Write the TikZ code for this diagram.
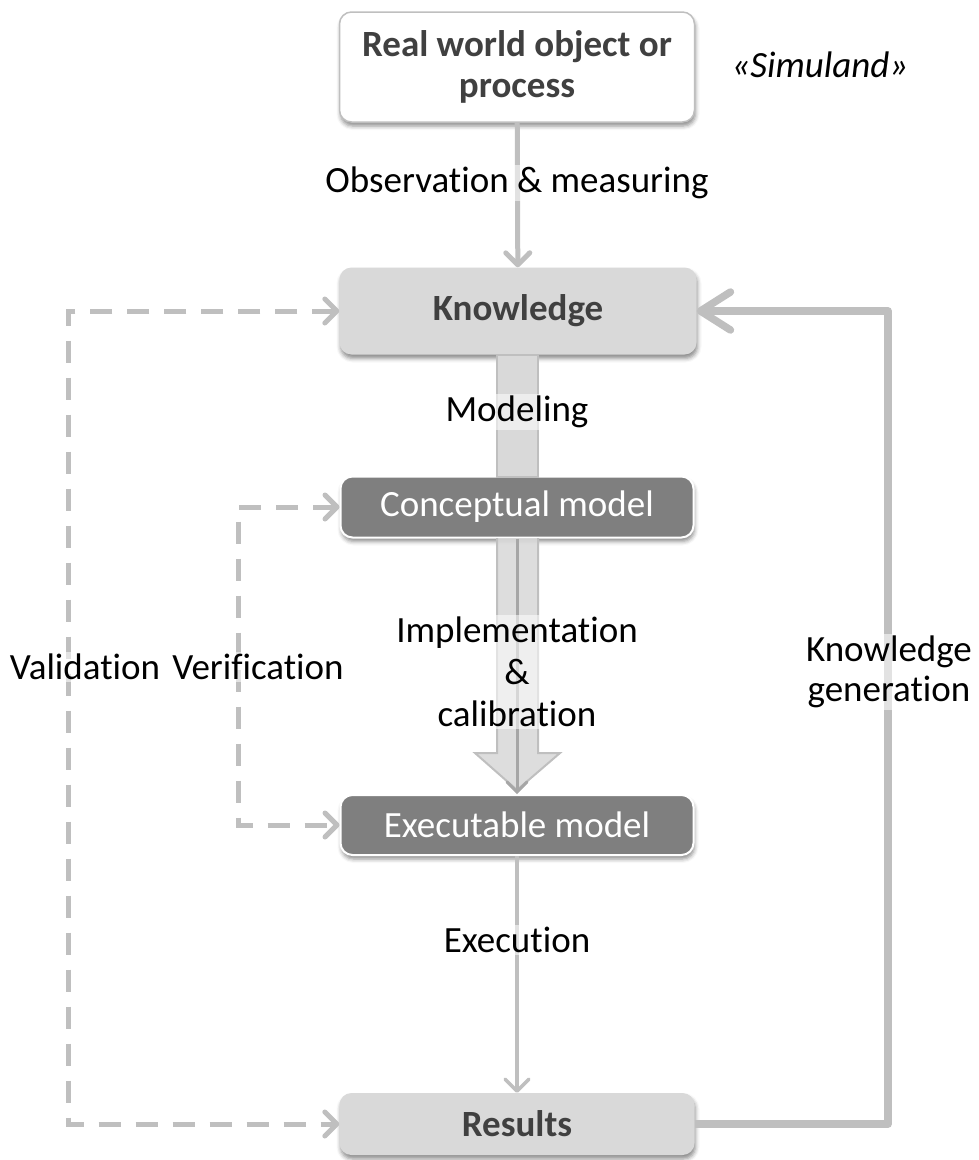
\documentclass[tikz,border=0pt]{standalone}
\usepackage{fontspec}
\setmainfont{Carlito}[Ligatures=NoCommon]
\usetikzlibrary{arrows.meta,shadows.blur}
\definecolor{boxlight}{HTML}{D9D9D9}
\definecolor{boxdark}{HTML}{7F7F7F}
\definecolor{linegray}{HTML}{BFBFBF}
\definecolor{textdark}{HTML}{404040}
\definecolor{centergray}{HTML}{A6A6A6}
\begin{document}
\begin{tikzpicture}[x=1pt,y=-1pt,
  every node/.style={font=\fontsize{37}{42}\selectfont},
  box/.style={rounded corners=12pt, minimum width=355pt, inner sep=0pt,
    align=center,
    blur shadow={shadow xshift=1pt, shadow yshift=-4pt,
      shadow blur radius=4pt, shadow opacity=45}},
  whitebox/.style={box, fill=white, draw=linegray, line width=1.5pt,
    text=textdark, font=\fontsize{37}{41}\selectfont\bfseries},
  lightbox/.style={box, fill=boxlight, text=textdark,
    font=\fontsize{37}{41}\selectfont\bfseries},
  darkbox/.style={box, fill=boxdark, draw=white, line width=2pt, text=white,
    minimum width=353pt},
  lbl/.style={fill=white, fill opacity=0.55, text opacity=1, inner sep=2pt,
    align=center, text=black},
  chevron/.tip={Straight Barb[length=12pt, width=24pt, line cap=round, line join=round]},
  bigchevron/.tip={Straight Barb[length=30pt, width=38pt, line cap=round, line join=round]},
  flow/.style={draw=linegray, line width=5pt, -chevron},
  thinflow/.style={draw=linegray, line width=3.5pt, -chevron},
  dashflow/.style={draw=linegray, line width=5pt, dash pattern=on 22pt off 15pt,
    chevron-chevron},
  feedback/.style={draw=linegray, line width=7.5pt, -bigchevron, line join=round},
  shaft/.style={fill=boxlight, draw=linegray, line width=2pt},
]
\useasboundingbox (0,0) rectangle (979,1160);

% boxes of the process chain
\node[whitebox, minimum height=110pt] (real) at (517,67) {Real world object or\\process};
\node[font=\fontsize{37}{42}\selectfont\itshape] (simuland) at (820,65) {«Simuland»};
\node[lightbox, minimum height=87pt, minimum width=357pt] (know) at (518,311) {Knowledge};
\node[darkbox, minimum height=61pt] (concept) at (517,507) {Conceptual model};
\node[darkbox, minimum height=60pt] (exec) at (517,825) {Executable model};
\node[lightbox, minimum height=62pt] (res) at (517,1124) {Results};

% observation arrow
\draw[flow] (real) -- (know);

% modeling shaft
\draw[shaft] (497,355) rectangle (538,477);

% implementation block arrow with inner line
\draw[shaft, fill opacity=0.9] (497,538) -- (497,753) -- (475,753) -- (517,790)
  -- (560,753) -- (538,753) -- (538,538);
\draw[draw=centergray, line width=3pt,
  -{Straight Barb[length=10pt, width=20pt, line cap=round]}] (concept) -- (exec);

% execution arrow
\draw[thinflow] (exec) -- (res);

% knowledge generation feedback
\coordinate (fbcorner) at (888,1124);
\draw[feedback] (res.east) -- (fbcorner) |- (know.east);

% validation and verification
\coordinate (valtop) at (68,311);
\coordinate (valbot) at (68,1124);
\draw[dashflow] (know.west) -- (valtop) -- (valbot) -- (res.west);
\coordinate (vertop) at (238,507);
\coordinate (verbot) at (238,825);
\draw[dashflow] (concept.west) -- (vertop) -- (verbot) -- (exec.west);

% labels
\node[lbl] (lobs) at (517,183) {Observation \& measuring};
\node[lbl] (lmod) at (517,412) {Modeling};
\node[lbl, font=\fontsize{37}{42}\selectfont] (limp) at (517,672) {Implementation\\\&\\calibration};
\node[lbl] (lexe) at (517,940) {Execution};
\node[lbl] (lval) at (85,667) {Validation};
\node[lbl] (lver) at (258,667) {Verification};
\node[lbl, font=\fontsize{37}{40}\selectfont] (lgen) at (889,672) {Knowledge\\generation};
\end{tikzpicture}
\end{document}
